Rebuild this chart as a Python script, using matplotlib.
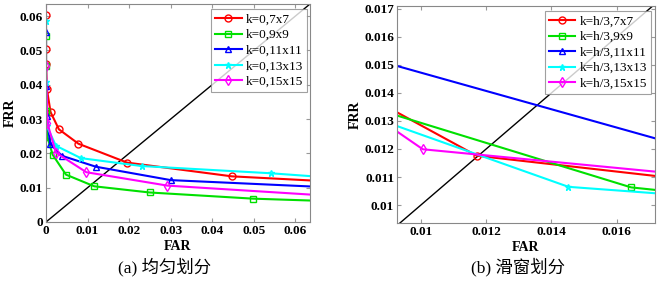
import matplotlib
matplotlib.use('Agg')
import matplotlib.pyplot as plt

plt.rcParams['font.family'] = ['Liberation Serif', 'Noto Sans CJK SC']

# (a) uniform partition
a_labels = ['k=0,7x7', 'k=0,9x9', 'k=0,11x11', 'k=0,13x13', 'k=0,15x15']
a_far = [
    [0, 0, 0, 0.0002, 0.0011, 0.0031, 0.0078, 0.0195, 0.0447, 0.070],
    [0, 0, 0, 0, 0.0003, 0.0016, 0.0048, 0.0116, 0.0249, 0.0498, 0.070],
    [0, 0, 0.0002, 0.0010, 0.0038, 0.0120, 0.0300, 0.070],
    [0, 0, 0.0002, 0.0024, 0.0084, 0.0230, 0.0540, 0.070],
    [0, 0, 0.0003, 0.0024, 0.0097, 0.0292, 0.070],
]
a_frr = [
    [0.0602, 0.0504, 0.0460, 0.0388, 0.0320, 0.0270, 0.0228, 0.0173, 0.0133, 0.0117],
    [0.0542, 0.0453, 0.0323, 0.0323, 0.0249, 0.0196, 0.0138, 0.0104, 0.0086, 0.0068, 0.0060],
    [0.0552, 0.0395, 0.0308, 0.0228, 0.0193, 0.0161, 0.0122, 0.0100],
    [0.0585, 0.0408, 0.0279, 0.0222, 0.0186, 0.0163, 0.0142, 0.0128],
    [0.0700, 0.0455, 0.0289, 0.0202, 0.0145, 0.0106, 0.0075],
]

# (b) sliding window
b_labels = ['k=h/3,7x7', 'k=h/3,9x9', 'k=h/3,11x11', 'k=h/3,13x13', 'k=h/3,15x15']
b_far = [
    [0.0090, 0.01171, 0.0180],
    [0.0090, 0.01644, 0.0180],
    [0.0090, 0.0180],
    [0.0090, 0.01452, 0.0180],
    [0.0090, 0.01006, 0.0180],
]
b_frr = [
    [0.01348, 0.01176, 0.01093],
    [0.01329, 0.01063, 0.01044],
    [0.01505, 0.01211],
    [0.01293, 0.01065, 0.01035],
    [0.01284, 0.01199, 0.01110],
]

colors = ['#ff0000', '#00e000', '#0000ff', '#00ffff', '#ff00ff']
markers = ['o', 's', '^', '*', 'd']

fig = plt.figure(figsize=(6.61, 2.82), dpi=100)
ax1 = fig.add_axes([46/661, 1-222/282, 264/661, 218/282])
ax2 = fig.add_axes([397/661, 1-223/282, 258/661, 217/282])


def style(ax):
    ax.tick_params(direction='in', top=True, right=True, labelsize=9.5, length=3,
                   color='#999999', pad=2)
    for lab in ax.get_xticklabels() + ax.get_yticklabels():
        lab.set_fontweight('bold')
    for s in ax.spines.values():
        s.set_color('#888888')
        s.set_linewidth(0.8)


def add_legend(ax, x):
    leg = ax.legend(loc='upper right', bbox_to_anchor=(x, 0.975), fontsize=9.5,
                    frameon=True, fancybox=False, edgecolor='#888888', handlelength=2.0,
                    borderpad=0.3, labelspacing=0.25, handletextpad=0.35, borderaxespad=0)
    leg.get_frame().set_linewidth(0.8)


lim_a = 0.0635
ax1.plot([0, 0.1], [0, 0.1], color='black', lw=1)
for i in range(5):
    ax1.plot(a_far[i], a_frr[i], color=colors[i], marker=markers[i], ms=5,
             mfc='none', mew=1, lw=1.5, label=a_labels[i])
ax1.set_xlim(0, lim_a)
ax1.set_ylim(0, lim_a)
ax1.set_xticks([0, 0.01, 0.02, 0.03, 0.04, 0.05, 0.06])
ax1.set_xticklabels(['0', '0.01', '0.02', '0.03', '0.04', '0.05', '0.06'])
ax1.set_yticks([0, 0.01, 0.02, 0.03, 0.04, 0.05, 0.06])
ax1.set_yticklabels(['0', '0.01', '0.02', '0.03', '0.04', '0.05', '0.06'])
style(ax1)
ax1.set_xlabel('FAR', fontsize=10, fontweight='bold', labelpad=2)
ax1.set_ylabel('FRR', fontsize=10, fontweight='bold', labelpad=2)
add_legend(ax1, 0.99)
fig.text(165/661, 1-267/282, '(a) 均匀划分', ha='center', va='center', fontsize=12.5)

ax2.plot([0, 0.1], [0, 0.1], color='black', lw=1)
for i in range(5):
    ax2.plot(b_far[i], b_frr[i], color=colors[i], marker=markers[i], ms=5,
             mfc='none', mew=1, lw=1.5, label=b_labels[i])
ax2.set_xlim(0.00927, 0.01717)
ax2.set_ylim(0.00936, 0.0171)
ax2.set_xticks([0.01, 0.012, 0.014, 0.016])
ax2.set_xticklabels(['0.01', '0.012', '0.014', '0.016'])
ax2.set_yticks([0.01, 0.011, 0.012, 0.013, 0.014, 0.015, 0.016, 0.017])
ax2.set_yticklabels(['0.01', '0.011', '0.012', '0.013', '0.014', '0.015', '0.016', '0.017'])
style(ax2)
ax2.set_xlabel('FAR', fontsize=10, fontweight='bold', labelpad=2)
ax2.set_ylabel('FRR', fontsize=10, fontweight='bold', labelpad=2)
add_legend(ax2, 0.985)
fig.text(518/661, 1-267/282, '(b) 滑窗划分', ha='center', va='center', fontsize=12.5)

fig.savefig('out.png', dpi=100)
